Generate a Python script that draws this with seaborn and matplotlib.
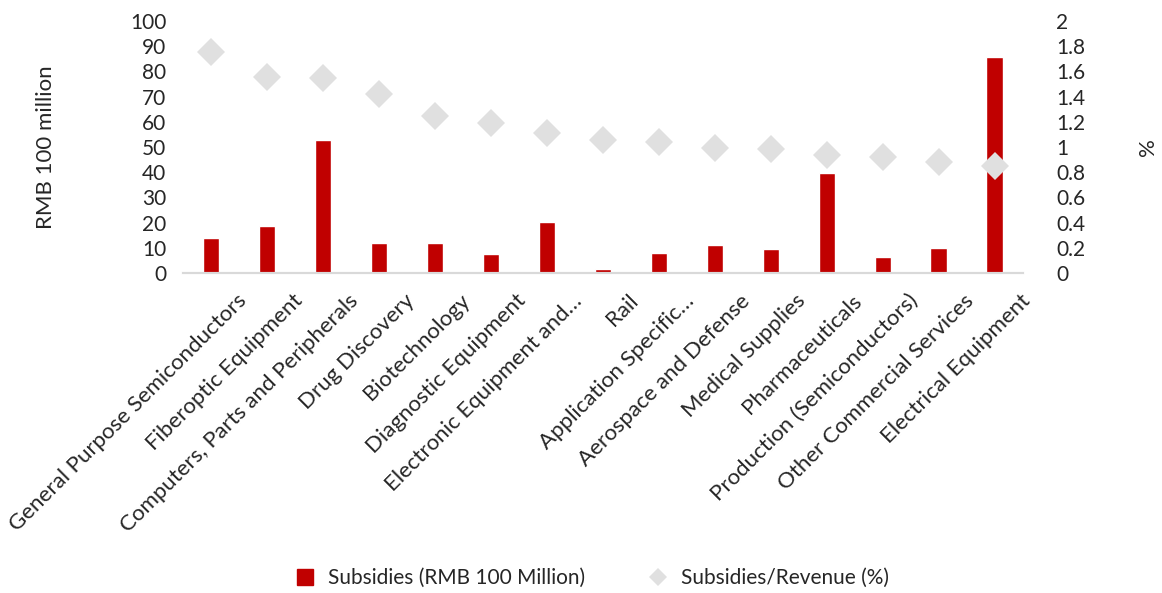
import matplotlib
matplotlib.use("Agg")
import matplotlib.pyplot as plt
from matplotlib.lines import Line2D
import matplotlib.transforms as mtransforms
import seaborn as sns
import pandas as pd

# 数据
categories = [
    "General Purpose Semiconductors", "Fiberoptic Equipment",
    "Computers, Parts and Peripherals", "Drug Discovery", "Biotechnology",
    "Diagnostic Equipment", "Electronic Equipment and\u2026", "Rail",
    "Application Specific\u2026", "Aerospace and Defense", "Medical Supplies",
    "Pharmaceuticals", "Production (Semiconductors)",
    "Other Commercial Services", "Electrical Equipment",
]
subsidies = [13.8, 18.8, 52.7, 11.9, 11.9, 7.4, 20.4, 1.5, 8.1, 11.1, 9.7, 39.5, 6.4, 10.1, 85.8]
ratio = [1.757, 1.553, 1.548, 1.423, 1.246, 1.187, 1.108, 1.055, 1.039, 0.991, 0.981, 0.933, 0.917, 0.880, 0.851]

df = pd.DataFrame({"cat": categories, "sub": subsidies, "ratio": ratio})

sns.set_style("white")
plt.rcParams['font.family'] = ['Lato', 'DejaVu Sans']

red = "#C00000"
grey = "#E0E0E0"
fs = 15
xfs = 16

fig = plt.figure(figsize=(11.62, 5.93), dpi=100)
ax = fig.add_axes([0.1575, 0.5396, 0.7225, 0.425])
sns.barplot(data=df, x="cat", y="sub", color=red, width=0.29, saturation=1, ax=ax)
ax.set_ylim(0, 100)
ax.set_yticks(range(0, 101, 10))
ax.set_xlim(-0.5, len(categories) - 0.5)
ax.set_ylabel("RMB 100 million", fontsize=xfs, labelpad=53)
ax.set_xlabel("")
ax.tick_params(axis="y", labelsize=fs, length=0, pad=12)
ax.tick_params(axis="x", labelsize=xfs, length=0, pad=4)
shift = mtransforms.ScaledTranslation(25 / 100, -12 / 100, fig.dpi_scale_trans)
for lbl in ax.get_xticklabels():
    lbl.set_rotation(45)
    lbl.set_ha("right")
    lbl.set_rotation_mode("anchor")
    lbl.set_transform(lbl.get_transform() + shift)

ax2 = ax.twinx()
ax2.plot(range(len(categories)), df["ratio"], linestyle="none", marker="D",
         markersize=14, color=grey, markeredgewidth=0)
ax2.set_ylim(0, 2)
ax2.set_yticks([0, 0.2, 0.4, 0.6, 0.8, 1, 1.2, 1.4, 1.6, 1.8, 2])
ax2.set_yticklabels(["0", "0.2", "0.4", "0.6", "0.8", "1", "1.2", "1.4", "1.6", "1.8", "2"])
ax2.set_ylabel("%", fontsize=xfs, labelpad=38)
ax2.tick_params(axis="y", labelsize=fs, length=0, pad=24)

for a in (ax, ax2):
    for s in ["top", "left", "right"]:
        a.spines[s].set_visible(False)
    a.spines["bottom"].set_color("#D9D9D9")
    a.spines["bottom"].set_linewidth(1.5)

handles = [
    Line2D([], [], linestyle="none", marker="s", markersize=11, color=red),
    Line2D([], [], linestyle="none", marker="D", markersize=9, color=grey, markeredgewidth=0),
]
fig.legend(handles, ["Subsidies (RMB 100 Million)", "Subsidies/Revenue (%)"],
           loc="center", bbox_to_anchor=(0.505, 0.025), ncol=2, frameon=False,
           fontsize=fs, handletextpad=0.1, columnspacing=2.5)

fig.savefig("out.png", dpi=100)
